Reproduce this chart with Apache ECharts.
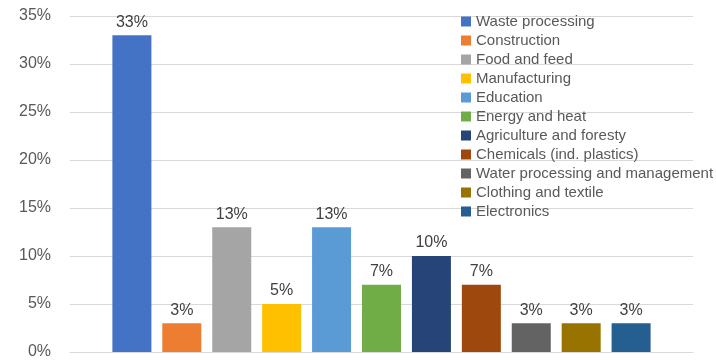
<!DOCTYPE html>
<html><head><meta charset="utf-8">
<script src="https://cdn.jsdelivr.net/npm/echarts@6/dist/echarts.min.js"></script>
<style>html,body{margin:0;padding:0;background:#fff}#c{width:716px;height:360px}</style>
</head><body><div id="c"></div>
<script>
const sectors = ["Waste processing","Construction","Food and feed","Manufacturing","Education","Energy and heat","Agriculture and foresty","Chemicals (ind. plastics)","Water processing and management","Clothing and textile","Electronics"];
const shares = [33,3,13,5,13,7,10,7,3,3,3];
const colors = ["#4472C4","#ED7D31","#A5A5A5","#FFC000","#5B9BD5","#70AD47","#264478","#9E480E","#636363","#997300","#255E91"];
const yTicks = {min:0, max:35, interval:5};
const FONT = "Liberation Sans";
const chart = echarts.init(document.getElementById('c'), null, {renderer:'canvas'});
chart.setOption({
  animation:false,
  backgroundColor:'#fff',
  grid:{left:70,right:23,top:16,bottom:3,containLabel:false},
  legend:{orient:'vertical',left:456,top:9,icon:'rect',itemWidth:10,itemHeight:10,itemGap:4,
    textStyle:{fontFamily:FONT,fontSize:15,color:'#595959',lineHeight:15},data:sectors},
  xAxis:{type:'category',data:[''],axisTick:{show:false},axisLabel:{show:false},
    axisLine:{lineStyle:{color:'#D9D9D9',width:1}}},
  yAxis:{type:'value',min:yTicks.min,max:yTicks.max,interval:yTicks.interval,
    axisLabel:{formatter:'{value}%',fontFamily:FONT,fontSize:16,color:'#595959',margin:19,padding:[6,0,0,0]},
    splitLine:{lineStyle:{color:'#D9D9D9',width:1}},axisLine:{show:false},axisTick:{show:false}},
  series: sectors.map((name,i)=>({
    name, type:'bar', data:[shares[i]], barWidth:39, barGap:'28%',
    itemStyle:{color:colors[i]},
    label:{show:true,position:'top',distance:5,formatter:'{c}%',fontFamily:FONT,fontSize:16,color:'#404040'}
  }))
});
</script></body></html>
